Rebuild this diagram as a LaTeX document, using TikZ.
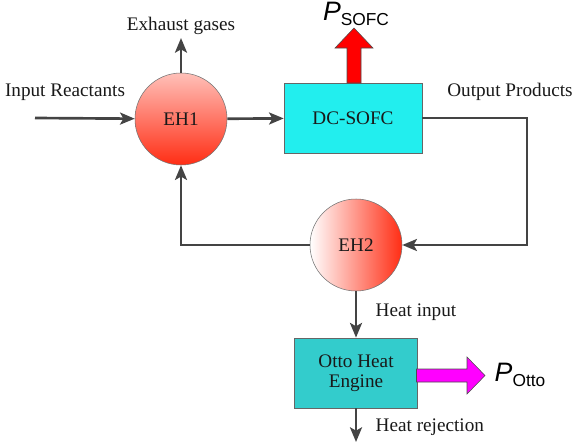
\documentclass[tikz,border=0pt]{standalone}
\usepackage{fontspec}
\setmainfont{Liberation Serif}
\setsansfont{Liberation Sans}
\usetikzlibrary{arrows.meta}
\definecolor{flowgray}{RGB}{68,68,68}
\definecolor{sofccyan}{RGB}{34,238,238}
\definecolor{ottoteal}{RGB}{51,204,204}
\definecolor{hotred}{RGB}{255,45,20}
\definecolor{powred}{RGB}{255,0,0}
\definecolor{powmag}{RGB}{255,0,255}
\tikzset{
  flow/.style={draw=flowgray, line width=2pt, -{Stealth[length=11pt,width=9pt,inset=2.5pt]}},
  txt/.style={font=\fontsize{14.4}{17}\selectfont, text=black!90},
  ehnode/.style={circle, draw=black!55, thin, minimum size=69pt, inner sep=0pt, txt},
  boxnode/.style={rectangle, draw=black!60, thin, minimum height=52.5pt, align=center, txt},
  powerlbl/.style={font=\sffamily\fontsize{20}{22}\selectfont}
}
\begin{document}
\begin{tikzpicture}[x=0.75pt,y=-0.75pt]
\useasboundingbox (0,0) rectangle (573,446);
\node[ehnode, shading=axis, top color=hotred!30!white, bottom color=hotred] (eh1) at (181,119) {EH1};
\node[ehnode, shading=axis, left color=white, right color=hotred] (eh2) at (356,245) {EH2};
\node[boxnode, fill=sofccyan, minimum width=103.5pt] (sofc) at (353,118) {DC-SOFC};
\node[boxnode, fill=ottoteal, minimum width=92pt, line width=0.6pt] (otto) at (356,373) {Otto Heat\\[-2pt]Engine};
\coordinate (inl) at (35,118);
\coordinate (exh) at (181,38);
\coordinate (rc) at (527,245);
\coordinate (rej) at (356,442);
\node[txt] (inlbl) at (65,92) {Input Reactants};
\node[txt] (exlbl) at (181,26) {Exhaust gases};
\node[txt] (outlbl) at (510,92) {Output Products};
\node[txt, anchor=west] (hinlbl) at (371,312) {Heat input};
\node[txt, anchor=west] (hrejlbl) at (371,427) {Heat rejection};
\node[powerlbl] (psofc) at (356,14) {\textit{P}\raisebox{-0.35ex}{\fontsize{13}{14}\selectfont SOFC}};
\node[powerlbl] (potto) at (520,375) {\textit{P}\raisebox{-0.35ex}{\fontsize{13}{14}\selectfont Otto}};
\draw[flow] (inl) -- (eh1);
\draw[flow] (eh1) -- (sofc);
\draw[flow] (eh1.north) -- (exh);
\draw[flow] (sofc.east) -| (rc) -- (eh2.east);
\draw[flow] (eh2.west) -| (eh1.south);
\draw[flow] (eh2) -- (otto);
\draw[flow] (otto.south) -- (rej);
\draw[fill=powred, draw=black!70, thin] (347,83) -- (347,48) -- (335,48) -- (354,28) -- (373,48) -- (361,48) -- (361,83) -- cycle;
\draw[fill=powmag, draw=black!70, thin] (416.5,369) -- (467,369) -- (467,357) -- (485,375.5) -- (467,394) -- (467,382) -- (416.5,382) -- cycle;
\end{tikzpicture}
\end{document}
